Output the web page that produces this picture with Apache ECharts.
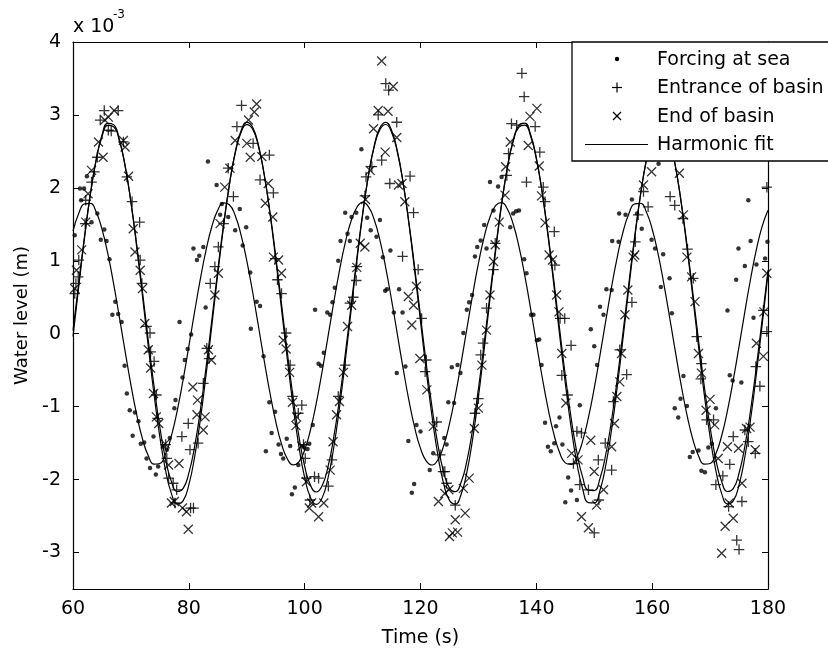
<!DOCTYPE html>
<html><head><meta charset="utf-8">
<script src="https://cdn.jsdelivr.net/npm/echarts@6/dist/echarts.min.js"></script>
<style>html,body{margin:0;padding:0;background:#fff}#chart{width:828px;height:652px}</style>
</head><body><div id="chart"></div>
<script>
// ---- data (water level in units of 1e-3 m) ----
const xTickValues = [60, 80, 100, 120, 140, 160, 180];
const yTickValues = [-3, -2, -1, 0, 1, 2, 3, 4];
const legendNames = ['Forcing at sea', 'Entrance of basin', 'End of basin', 'Harmonic fit'];

const forcingPts = [[60.3,1.35],[61.2,1.99],[61.4,1.83],[61.9,1.99],[62.4,2.16],[63.2,1.53],[64.2,1.65],[64.8,1.29],[65.4,1.43],[65.8,1.27],[66.3,1.02],[66.8,0.26],[67.3,0.44],[67.8,0.27],[68.4,0.16],[68.9,-0.44],[69.3,-0.82],[69.8,-1.05],[70.3,-1.40],[70.7,-1.08],[71.3,-1.20],[71.7,-1.51],[72.3,-1.49],[72.7,-1.71],[73.3,-1.84],[73.9,-1.41],[74.3,-1.93],[74.7,-1.82],[75.6,-1.55],[76.2,-1.59],[76.7,-1.43],[77.5,-1.02],[77.7,-0.91],[78.4,0.16],[78.9,-0.60],[79.3,-0.36],[79.8,-0.21],[80.4,-0.01],[80.8,1.17],[81.4,1.01],[81.8,1.07],[82.5,1.19],[82.9,0.36],[83.3,2.36],[84.8,2.04],[85.4,1.63],[85.7,1.78],[86.8,1.60],[88.0,1.42],[88.8,1.71],[89.3,1.21],[89.9,1.46],[90.6,0.84],[90.7,0.07],[91.7,0.44],[92.3,0.38],[92.9,-0.31],[93.3,-1.61],[93.9,-0.94],[94.3,-1.36],[94.9,-1.07],[95.5,-1.52],[95.9,-1.65],[96.3,-1.71],[96.9,-1.44],[97.5,-1.54],[97.8,-2.20],[98.3,-2.11],[98.9,-1.80],[99.8,-1.55],[100.5,-1.58],[100.8,-1.51],[101.4,-1.25],[101.8,0.33],[102.4,-0.41],[102.8,-0.44],[103.3,-0.26],[103.9,0.29],[104.4,0.26],[104.8,0.43],[105.2,0.63],[105.8,1.00],[106.2,1.27],[107.0,1.66],[107.4,1.37],[107.8,1.27],[108.1,1.60],[108.9,1.66],[109.8,2.53],[110.8,1.59],[111.4,1.42],[112.4,1.33],[113.0,1.56],[113.5,1.05],[113.9,0.59],[114.2,0.61],[114.8,1.14],[115.4,0.29],[115.9,-0.54],[116.3,0.61],[116.9,0.29],[117.4,-0.45],[117.9,-1.47],[118.5,-2.18],[118.9,-2.06],[119.3,-1.25],[120.0,-1.34],[121.6,-1.87],[122.2,-1.64],[124.1,-1.43],[124.5,-1.52],[124.8,-0.94],[125.4,-0.46],[125.8,-0.95],[126.4,-0.43],[126.9,-0.54],[127.4,0.01],[128.0,0.33],[128.4,0.43],[128.9,0.53],[129.4,1.06],[129.8,1.19],[130.4,1.28],[131.0,1.49],[131.4,1.17],[132.0,2.08],[132.6,1.69],[133.4,2.02],[134.0,2.15],[135.5,1.46],[136.0,1.65],[136.5,1.68],[137.0,1.69],[137.9,1.02],[138.3,0.83],[139.1,0.26],[139.5,0.26],[140.1,-0.09],[140.5,-0.08],[140.9,-0.43],[141.5,-1.22],[142.0,-1.55],[142.5,-1.61],[143.1,-1.50],[143.4,-1.27],[144.0,-1.15],[144.5,-1.52],[145.0,-2.31],[145.5,-1.97],[146.0,-2.15],[147.0,-2.28],[147.5,-0.98],[149.4,0.06],[150.0,-0.17],[150.5,-0.43],[151.0,0.37],[151.6,0.26],[152.1,0.61],[153.0,0.60],[153.1,1.27],[154.2,1.26],[154.3,1.65],[155.4,1.63],[156.5,1.84],[157.4,1.65],[158.2,1.44],[159.9,1.29],[160.5,1.17],[161.1,2.33],[161.5,0.64],[161.9,1.09],[163.0,0.76],[163.4,0.28],[163.9,-1.02],[164.5,-1.15],[164.9,-0.89],[165.4,-0.58],[166.0,-0.99],[166.5,-1.69],[167.0,-1.62],[168.0,-1.60],[168.5,-1.88],[169.1,-1.90],[169.7,-1.56],[170.3,-1.51],[171.0,-1.02],[173.0,0.32],[173.4,-0.57],[173.9,-0.64],[174.5,0.74],[174.9,1.17],[175.4,-0.67],[176.0,0.93],[176.6,1.83],[177.0,1.27],[177.5,0.22],[178.0,0.95],[179.5,1.03],[179.9,1.26]];

const entrancePts = [[60.3,0.55],[60.5,0.69],[60.9,0.78],[61.0,1.01],[62.1,1.51],[62.2,1.83],[63.2,2.08],[63.7,2.22],[64.2,2.42],[64.7,2.93],[65.4,3.06],[66.1,2.79],[66.6,2.78],[67.8,3.06],[68.7,2.63],[69.3,2.15],[70.2,1.81],[71.5,1.53],[71.6,1.01],[71.9,0.69],[72.7,0.10],[73.3,0.01],[73.4,-0.25],[74.0,-0.38],[74.4,-0.84],[74.6,-1.16],[76.0,-1.52],[76.2,-1.71],[76.5,-1.98],[77.3,-2.05],[77.6,-2.32],[77.9,-2.14],[78.8,-1.41],[79.9,-1.23],[80.2,-1.59],[80.3,-2.39],[80.8,-2.39],[81.6,-1.50],[82.5,-0.68],[83.1,-0.20],[83.5,-0.34],[83.7,0.69],[84.5,0.92],[85.1,1.19],[86.0,1.51],[86.8,2.27],[87.7,1.88],[88.3,2.84],[89.1,3.13],[91.1,2.61],[92.3,2.11],[93.9,2.45],[94.6,1.93],[94.9,1.03],[95.3,0.74],[96.0,0.55],[96.8,0.01],[97.5,-0.43],[97.9,-0.86],[98.9,-1.09],[99.5,-0.98],[99.8,-1.52],[100.1,-1.71],[100.3,-1.98],[100.9,-2.28],[101.7,-1.96],[102.4,-1.98],[104.1,-2.09],[104.7,-1.73],[105.8,-0.86],[107.0,-0.43],[107.8,0.42],[108.4,0.50],[108.9,0.73],[109.0,0.92],[110.4,1.89],[110.6,2.15],[111.6,2.29],[112.7,3.00],[113.3,2.38],[114.0,3.43],[114.5,3.34],[114.7,2.06],[115.9,2.90],[116.9,1.06],[118.2,2.16],[118.8,1.66],[119.6,0.88],[120.2,0.21],[120.8,-0.52],[121.0,-0.36],[122.8,-1.21],[123.4,-1.66],[123.9,-1.89],[124.2,-1.89],[124.5,-2.05],[126.0,-2.35],[129.4,-1.09],[130.0,-0.89],[130.4,-0.29],[130.8,-0.13],[131.4,0.35],[132.6,0.88],[132.9,1.24],[134.9,2.17],[135.2,2.47],[135.7,2.88],[136.6,2.86],[137.5,3.57],[137.9,3.25],[138.3,2.08],[139.8,2.84],[140.6,2.49],[141.2,2.01],[141.5,1.81],[143.1,1.40],[143.2,0.94],[144.1,0.21],[144.4,-0.57],[144.9,0.21],[145.4,-0.84],[146.0,-0.16],[146.4,-1.78],[147.0,-1.34],[147.5,-2.07],[147.8,-1.36],[149.0,-2.14],[150.0,-2.73],[150.7,-1.73],[150.8,-2.28],[151.9,-1.50],[153.0,-1.87],[153.3,-0.93],[154.4,-0.22],[155.6,-0.56],[156.5,0.43],[157.1,1.26],[157.6,1.63],[158.5,1.95],[159.3,1.74],[163.1,1.88],[163.9,1.76],[165.3,1.58],[166.1,1.16],[167.1,0.76],[167.7,-0.04],[168.4,-0.62],[168.5,-0.41],[169.4,-1.18],[170.6,-1.18],[171.0,-2.07],[172.2,-1.95],[173.2,-2.37],[173.4,-1.79],[174.0,-1.41],[174.6,-2.83],[175.0,-2.96],[175.5,-2.30],[176.0,-1.32],[176.6,-1.48],[177.8,-1.64],[177.9,-0.45],[178.6,-0.72],[179.2,0.32],[179.8,0.03],[179.8,2.01]];

const endPts = [[60.3,0.62],[60.6,0.87],[61.5,1.15],[62.2,1.53],[62.6,1.92],[63.2,2.24],[64.4,2.63],[65.2,2.42],[65.5,2.93],[66.1,2.97],[67.1,3.06],[68.7,2.65],[69.0,2.56],[69.6,2.16],[70.4,1.44],[70.7,1.12],[71.6,0.87],[72.0,0.62],[72.4,0.14],[73.0,-0.22],[73.4,-0.47],[73.9,-0.82],[74.4,-1.14],[74.8,-1.23],[75.9,-1.51],[76.5,-1.80],[77.0,-2.32],[77.5,-2.30],[78.3,-1.78],[78.9,-2.39],[79.6,-2.44],[79.9,-2.68],[80.7,-0.73],[81.4,-1.11],[81.5,-0.91],[82.5,-1.32],[82.8,-1.14],[83.4,-0.22],[83.9,-0.36],[84.5,0.53],[85.1,0.83],[85.4,1.51],[86.2,2.01],[87.1,2.27],[88.0,2.65],[90.0,2.61],[90.3,2.93],[90.6,2.42],[91.3,3.04],[91.7,3.15],[92.6,2.43],[93.2,1.79],[93.7,2.06],[94.5,1.60],[94.6,1.05],[95.5,1.01],[96.0,0.83],[96.3,-0.09],[96.8,-0.21],[97.4,-0.53],[97.9,-0.94],[98.5,-1.26],[98.6,-1.14],[99.5,-1.54],[100.3,-2.03],[100.8,-2.39],[101.2,-2.32],[102.4,-2.51],[103.3,-2.32],[104.4,-1.87],[104.9,-1.48],[105.5,-1.11],[106.0,-0.93],[106.7,-0.53],[107.4,0.10],[108.1,0.39],[109.0,0.91],[109.6,1.24],[110.4,1.19],[110.5,1.84],[111.3,2.24],[111.9,2.81],[112.7,3.06],[113.3,3.74],[113.9,2.49],[114.4,3.05],[115.3,3.39],[115.9,2.69],[116.2,2.04],[116.8,2.06],[117.3,1.81],[117.9,0.51],[118.5,0.12],[118.8,0.39],[119.3,0.65],[119.9,-0.34],[121.1,-0.77],[122.2,-1.27],[123.1,-2.30],[124.2,-2.19],[124.9,-2.14],[125.0,-2.78],[125.5,-2.73],[126.0,-2.55],[126.4,-2.72],[127.4,-2.12],[127.7,-2.46],[128.4,-1.98],[129.3,-1.30],[130.0,-1.02],[130.6,-0.43],[131.4,0.05],[132.0,0.53],[132.6,0.99],[132.9,1.22],[133.6,1.53],[134.6,1.90],[134.7,2.29],[135.5,2.63],[138.6,2.58],[138.9,2.98],[140.1,3.09],[140.5,2.30],[140.9,1.89],[141.5,1.52],[142.2,1.08],[142.8,1.01],[143.5,0.53],[143.9,0.30],[144.4,-0.27],[145.1,-0.95],[146.1,-1.64],[147.2,-1.73],[147.8,-2.51],[149.0,-2.66],[149.4,-1.46],[150.0,-1.89],[150.4,-2.35],[151.6,-2.14],[153.0,-1.55],[153.5,-1.23],[153.9,-0.86],[154.4,-0.66],[154.7,-0.27],[155.3,0.26],[155.8,0.60],[156.7,1.05],[157.0,1.08],[158.5,2.04],[159.9,2.22],[164.7,2.20],[165.4,1.63],[166.0,1.05],[166.8,0.78],[167.4,0.44],[168.0,-0.27],[168.5,-0.54],[169.3,-1.05],[170.0,-0.90],[170.8,-1.25],[171.4,-1.71],[172.0,-3.01],[172.6,-2.64],[173.0,-1.55],[173.3,-2.32],[174.0,-2.53],[174.9,-1.57],[175.5,-2.05],[176.3,-1.30],[176.9,-1.28],[177.8,-1.59],[178.0,-0.13],[179.2,-0.31],[179.3,0.30],[179.8,0.83]];

const fitTime = [60,61,62,63,64,65,66,67,68,69,70,71,72,73,74,75,76,77,78,79,80,81,82,83,84,85,86,87,88,89,90,91,92,93,94,95,96,97,98,99,100,101,102,103,104,105,106,107,108,109,110,111,112,113,114,115,116,117,118,119,120,121,122,123,124,125,126,127,128,129,130,131,132,133,134,135,136,137,138,139,140,141,142,143,144,145,146,147,148,149,150,151,152,153,154,155,156,157,158,159,160,161,162,163,164,165,166,167,168,169,170,171,172,173,174,175,176,177,178,179,180];

const fitForcing = [1.406,1.651,1.781,1.787,1.669,1.435,1.101,0.690,0.231,-0.243,
-0.701,-1.110,-1.442,-1.674,-1.789,-1.779,-1.646,-1.398,-1.053,-0.635,
-0.172,0.302,0.756,1.157,1.477,1.695,1.794,1.769,1.621,1.360,
1.004,0.579,0.113,-0.361,-0.809,-1.202,-1.511,-1.714,-1.798,-1.757,
-1.594,-1.320,-0.954,-0.522,-0.053,0.419,0.862,1.245,1.542,1.731,
1.800,1.743,1.566,1.279,0.904,0.465,-0.006,-0.476,-0.914,-1.288,
-1.572,-1.746,-1.800,-1.728,-1.535,-1.237,-0.852,-0.407,0.065,0.534,
0.964,1.328,1.600,1.760,1.797,1.710,1.504,1.193,0.799,0.349,
-0.125,-0.590,-1.014,-1.367,-1.626,-1.771,-1.793,-1.691,-1.470,-1.148,
-0.745,-0.291,0.183,0.645,1.062,1.405,1.650,1.781,1.787,1.670,
1.436,1.101,0.691,0.232,-0.242,-0.700,-1.109,-1.442,-1.673,-1.788,
-1.779,-1.646,-1.399,-1.054,-0.636,-0.174,0.300,0.754,1.156,1.476,
1.694];

const fitEntrance = [0.042,0.707,1.347,1.917,2.379,2.699,2.856,2.838,2.647,2.297,
1.811,1.223,0.575,-0.089,-0.723,-1.282,-1.727,-2.028,-2.163,-2.124,
-1.912,-1.543,-1.043,-0.445,0.208,0.871,1.498,2.044,2.473,2.754,
2.868,2.807,2.574,2.187,1.672,1.066,0.409,-0.252,-0.870,-1.404,
-1.817,-2.078,-2.170,-2.087,-1.834,-1.429,-0.901,-0.286,0.374,1.032,
1.642,2.163,2.558,2.799,2.869,2.764,2.491,2.069,1.528,0.905,
0.243,-0.412,-1.013,-1.519,-1.897,-2.117,-2.166,-2.039,-1.747,-1.308,
-0.755,-0.124,0.540,1.191,1.783,2.275,2.633,2.833,2.859,2.711,
2.399,1.944,1.379,0.742,0.077,-0.569,-1.150,-1.626,-1.967,-2.146,
-2.150,-1.981,-1.649,-1.179,-0.603,0.041,0.706,1.345,1.916,2.378,
2.699,2.856,2.839,2.648,2.298,1.813,1.225,0.577,-0.087,-0.721,
-1.280,-1.726,-2.027,-2.163,-2.124,-1.913,-1.545,-1.044,-0.447,0.206,
0.869];

const fitEnd = [-0.040,0.652,1.317,1.910,2.389,2.722,2.885,2.867,2.669,2.304,
1.799,1.188,0.514,-0.177,-0.836,-1.417,-1.879,-2.192,-2.333,-2.292,
-2.072,-1.688,-1.168,-0.547,0.132,0.822,1.473,2.042,2.487,2.779,
2.898,2.834,2.593,2.190,1.655,1.024,0.341,-0.346,-0.989,-1.544,
-1.973,-2.244,-2.340,-2.254,-1.991,-1.570,-1.021,-0.381,0.305,0.989,
1.624,2.165,2.576,2.826,2.899,2.790,2.506,2.068,1.505,0.857,
0.168,-0.512,-1.137,-1.664,-2.056,-2.285,-2.336,-2.204,-1.900,-1.444,
-0.868,-0.212,0.478,1.154,1.769,2.281,2.654,2.861,2.889,2.735,
2.411,1.938,1.350,0.687,-0.004,-0.675,-1.280,-1.775,-2.129,-2.315,
-2.320,-2.144,-1.799,-1.310,-0.710,-0.042,0.650,1.315,1.909,2.388,
2.722,2.885,2.867,2.669,2.305,1.801,1.190,0.516,-0.175,-0.834,
-1.415,-1.878,-2.192,-2.333,-2.292,-2.073,-1.690,-1.169,-0.548,0.131,
0.819];

// ---- chart ----
const FONT = "'DejaVu Sans', 'Liberation Sans', sans-serif";
const BLACK = '#000';
const zip = (xs, ys) => xs.map((x, i) => [x, ys[i]]);
const PLUS = 'path://M0,5L10,5M5,0L5,10';
const CROSS = 'path://M0,0L10,10M10,0L0,10';

const axisBase = {
  type: 'value',
  axisLine: { show: true, onZero: false, lineStyle: { color: BLACK, width: 1.2 } },
  axisTick: { show: true, inside: true, length: 6, lineStyle: { color: BLACK, width: 1 } },
  splitLine: { show: false },
  minorTick: { show: false }
};
const labelStyle = { color: BLACK, fontSize: 19, fontFamily: FONT };
const intLabel = v => (Math.abs(v - Math.round(v)) < 1e-9 ? String(Math.round(v)) : '');

const chart = echarts.init(document.getElementById('chart'), null, { renderer: 'canvas' });
chart.setOption({
  animation: false,
  backgroundColor: '#fff',
  grid: { left: 73, right: 60, top: 42, bottom: 63, containLabel: false, outerBoundsMode: 'none' },
  xAxis: [
    Object.assign({}, axisBase, {
      position: 'bottom', min: xTickValues[0], max: xTickValues[xTickValues.length - 1], interval: 20,
      axisLabel: Object.assign({ margin: 11 }, labelStyle),
      name: 'Time (s)', nameLocation: 'middle', nameGap: 40,
      nameTextStyle: { color: BLACK, fontSize: 19, fontFamily: FONT }
    }),
    Object.assign({}, axisBase, {
      position: 'top', min: xTickValues[0], max: xTickValues[xTickValues.length - 1], interval: 20,
      axisLabel: { show: false }
    })
  ],
  yAxis: [
    Object.assign({}, axisBase, {
      position: 'left', min: -3.5, max: yTickValues[yTickValues.length - 1],
      splitNumber: 8, minInterval: 1, maxInterval: 1,
      axisLabel: Object.assign({ margin: 12, formatter: intLabel }, labelStyle),
      name: 'Water level (m)', nameLocation: 'middle', nameGap: 38,
      nameTextStyle: { color: BLACK, fontSize: 18, fontFamily: FONT }
    }),
    Object.assign({}, axisBase, {
      position: 'right', min: -3.5, max: yTickValues[yTickValues.length - 1],
      splitNumber: 8, minInterval: 1, maxInterval: 1,
      axisLabel: { show: false }
    })
  ],
  series: [
    { name: legendNames[0], type: 'scatter', silent: true, symbol: 'circle', symbolSize: 4.5,
      itemStyle: { color: BLACK }, data: forcingPts, z: 3 },
    { name: legendNames[1], type: 'scatter', silent: true, symbol: PLUS, symbolSize: 10.5,
      itemStyle: { color: BLACK, borderColor: BLACK, borderWidth: 1.3 }, data: entrancePts, z: 3 },
    { name: legendNames[2], type: 'scatter', silent: true, symbol: CROSS, symbolSize: 9,
      itemStyle: { color: BLACK, borderColor: BLACK, borderWidth: 1.3 }, data: endPts, z: 3 },
    { name: legendNames[3], type: 'line', silent: true, showSymbol: false, smooth: true,
      lineStyle: { color: BLACK, width: 1.2 }, data: zip(fitTime, fitForcing), z: 4 },
    { name: legendNames[3], type: 'line', silent: true, showSymbol: false, smooth: true,
      lineStyle: { color: BLACK, width: 1.2 }, data: zip(fitTime, fitEntrance), z: 4 },
    { name: legendNames[3], type: 'line', silent: true, showSymbol: false, smooth: true,
      lineStyle: { color: BLACK, width: 1.2 }, data: zip(fitTime, fitEnd), z: 4 }
  ],
  graphic: [
    { type: 'text', x: 73, y: 27, z: 100, silent: true,
      style: { text: 'x 10', fill: BLACK, fontSize: 19, fontFamily: FONT, verticalAlign: 'middle' } },
    { type: 'text', x: 113, y: 15, z: 100, silent: true,
      style: { text: '-3', fill: BLACK, fontSize: 12, fontFamily: FONT, verticalAlign: 'middle' } },
    { type: 'rect', z: 100, silent: true, shape: { x: 572, y: 42, width: 300, height: 119 },
      style: { fill: '#fff', stroke: BLACK, lineWidth: 1.3 } },
    { type: 'circle', z: 101, silent: true, shape: { cx: 617, cy: 59, r: 2.2 }, style: { fill: BLACK } },
    { type: 'line', z: 101, silent: true, shape: { x1: 612, y1: 87.5, x2: 622, y2: 87.5 }, style: { stroke: BLACK, lineWidth: 1.2 } },
    { type: 'line', z: 101, silent: true, shape: { x1: 617, y1: 82.5, x2: 617, y2: 92.5 }, style: { stroke: BLACK, lineWidth: 1.2 } },
    { type: 'line', z: 101, silent: true, shape: { x1: 613, y1: 112, x2: 621, y2: 120 }, style: { stroke: BLACK, lineWidth: 1.2 } },
    { type: 'line', z: 101, silent: true, shape: { x1: 621, y1: 112, x2: 613, y2: 120 }, style: { stroke: BLACK, lineWidth: 1.2 } },
    { type: 'line', z: 101, silent: true, shape: { x1: 585, y1: 144.5, x2: 648, y2: 144.5 }, style: { stroke: BLACK, lineWidth: 1.2 } },
    { type: 'text', x: 657, y: 60, z: 101, silent: true,
      style: { text: legendNames[0], fill: BLACK, fontSize: 19, fontFamily: FONT, verticalAlign: 'middle' } },
    { type: 'text', x: 657, y: 88, z: 101, silent: true,
      style: { text: legendNames[1], fill: BLACK, fontSize: 19, fontFamily: FONT, verticalAlign: 'middle' } },
    { type: 'text', x: 657, y: 117, z: 101, silent: true,
      style: { text: legendNames[2], fill: BLACK, fontSize: 19, fontFamily: FONT, verticalAlign: 'middle' } },
    { type: 'text', x: 657, y: 145, z: 101, silent: true,
      style: { text: legendNames[3], fill: BLACK, fontSize: 19, fontFamily: FONT, verticalAlign: 'middle' } }
  ]
});
</script>
</body></html>
